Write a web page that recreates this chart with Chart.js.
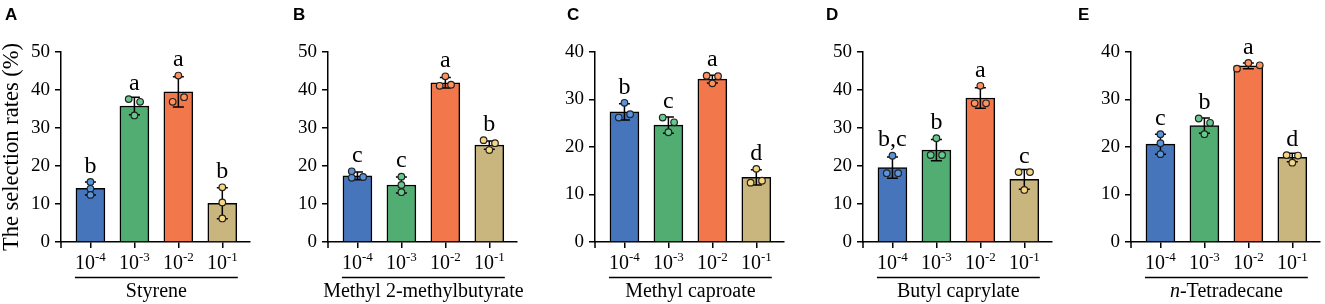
<!DOCTYPE html>
<html><head><meta charset="utf-8">
<script src="https://cdn.jsdelivr.net/npm/chart.js@4/dist/chart.umd.min.js"></script>
<style>
html,body{margin:0;padding:0;background:#fff;overflow:hidden;width:1325px;height:304px;position:relative;}
canvas{position:absolute;top:0;}
</style></head><body>
<canvas id="c0" width="262" height="304" style="left:0px"></canvas>
<canvas id="c1" width="262" height="304" style="left:267px"></canvas>
<canvas id="c2" width="262" height="304" style="left:534px"></canvas>
<canvas id="c3" width="262" height="304" style="left:802px"></canvas>
<canvas id="c4" width="262" height="304" style="left:1070px"></canvas>
<script>
// ---------- DATA ----------
const categories = ['10^-4', '10^-3', '10^-2', '10^-1'];
const tickBase = '10';
const tickExps = ['-4', '-3', '-2', '-1'];
const panelLetters = ['A', 'B', 'C', 'D', 'E'];
const compounds = ['Styrene', 'Methyl 2-methylbutyrate', 'Methyl caproate', 'Butyl caprylate', 'n-Tetradecane'];
const yTitle = 'The selection rates (%)';
const yMax = [50, 50, 40, 50, 40];
const yStep = 10;

const meansA = [14.1, 35.8, 39.5, 10.2];
const sdA = [1.7, 2.3, 4.0, 4.1];
const pointsA = [[15.8, 14.0, 12.4], [37.6, 36.9, 33.3], [43.8, 36.9, 38.1], [14.4, 10.4, 6.2]];
const lettersA = ['b', 'a', 'a', 'b'];

const meansB = [17.4, 15.0, 41.9, 25.5];
const sdB = [1.0, 2.1, 1.4, 1.1];
const pointsB = [[18.6, 16.9, 17.1], [17.2, 15.0, 13.1], [43.6, 41.1, 41.4], [26.8, 26.0, 24.2]];
const lettersB = ['c', 'c', 'a', 'b'];

const meansC = [27.4, 24.6, 34.3, 13.6];
const sdC = [1.7, 1.7, 0.8, 1.6];
const pointsC = [[29.3, 26.2, 26.9], [26.2, 25.2, 23.1], [35.0, 34.9, 33.4], [15.4, 12.5, 12.9]];
const lettersC = ['b', 'c', 'a', 'd'];

const meansD = [19.6, 24.2, 37.9, 16.5];
const sdD = [2.8, 2.8, 2.7, 2.6];
const pointsD = [[22.7, 18.1, 18.1], [27.3, 22.9, 22.9], [41.1, 36.5, 36.5], [18.4, 18.4, 13.7]];
const lettersD = ['b,c', 'b', 'a', 'c'];

const meansE = [20.6, 24.5, 37.1, 17.8];
const sdE = [2.1, 1.6, 0.6, 0.9];
const pointsE = [[22.7, 20.8, 18.5], [26.0, 25.1, 22.7], [36.5, 37.7, 37.2], [18.3, 18.2, 16.7]];
const lettersE = ['c', 'b', 'a', 'd'];

// ---------- STYLE / LAYOUT ----------
const barColors = ['#4675BC', '#52AD73', '#F2784C', '#C9B67E'];
const dotColors = ['#5A95DC', '#66C88C', '#FF915F', '#F7D67F'];
const jitters = [
  [[0,0,0],[-1,1,0],[0,-1,1],[0,0,0]],
  [[-1,-1,1],[0,0,0],[0,-1,1],[-1,1,0]],
  [[0,-1,1],[-1,1,0],[-1,1,0],[0,-1,1]],
  [[0,-1,1],[0,-1,1],[0,-1,1],[-1,1,0]],
  [[0,0,0],[-1,1,0],[-2,0,2],[-1,1,0]]
];
const letterX = [5, 26, 33, 24, 8];
const JIT = 5.7, R = 3.3;
const SERIF = '"Liberation Serif", "Times New Roman", serif';
const SANS = '"Liberation Sans", Arial, sans-serif';

const panels = [
  {means: meansA, sd: sdA, points: pointsA, letters: lettersA},
  {means: meansB, sd: sdB, points: pointsB, letters: lettersB},
  {means: meansC, sd: sdC, points: pointsC, letters: lettersC},
  {means: meansD, sd: sdD, points: pointsD, letters: lettersD},
  {means: meansE, sd: sdE, points: pointsE, letters: lettersE}
];

Chart.defaults.font.family = SERIF;
Chart.defaults.color = '#000';

const overlay = {
  id: 'overlay',
  afterDatasetsDraw(chart, args, opts) {
    const k = opts.k, P = panels[k];
    const ctx = chart.ctx, xs = chart.scales.x, ys = chart.scales.y, ca = chart.chartArea;
    ctx.save();
    ctx.strokeStyle = '#000'; ctx.lineWidth = 1.5;
    ctx.beginPath(); ctx.moveTo(ca.left, ca.bottom); ctx.lineTo(ca.left, ca.bottom + 6); ctx.stroke();
    const bw = 29;
    for (let i = 0; i < categories.length; i++) {
      const cx = xs.getPixelForValue(i);
      const m = P.means[i], s = P.sd[i];
      const yt = ys.getPixelForValue(m + s), yb = ys.getPixelForValue(m - s);
      ctx.strokeStyle = '#000'; ctx.lineWidth = 1.5;
      ctx.beginPath();
      ctx.moveTo(cx, yt); ctx.lineTo(cx, yb);
      ctx.moveTo(cx - 5.5, yt); ctx.lineTo(cx + 5.5, yt);
      ctx.moveTo(cx - 5.5, yb); ctx.lineTo(cx + 5.5, yb);
      ctx.stroke();
      let top = yt;
      P.points[i].forEach((v, j) => {
        const px = cx + jitters[k][i][j] * JIT, py = ys.getPixelForValue(v);
        ctx.beginPath(); ctx.arc(px, py, R, 0, Math.PI * 2);
        ctx.fillStyle = dotColors[i]; ctx.fill();
        ctx.lineWidth = 1.2; ctx.strokeStyle = '#222'; ctx.stroke();
        top = Math.min(top, py - R);
      });
      ctx.fillStyle = '#000';
      ctx.textAlign = 'center'; ctx.textBaseline = 'alphabetic';
      ctx.font = '24px ' + SERIF;
      ctx.fillText(P.letters[i], cx, top - 6);
      ctx.font = '20px ' + SERIF;
      const wb = ctx.measureText(tickBase).width;
      ctx.font = '13px ' + SERIF;
      const we = ctx.measureText(tickExps[i]).width;
      const x0 = cx - (wb + we) / 2;
      ctx.textAlign = 'left';
      ctx.font = '20px ' + SERIF;
      ctx.fillText(tickBase, x0, 269);
      ctx.font = '13px ' + SERIF;
      ctx.fillText(tickExps[i], x0 + wb, 261);
    }
    const ux0 = xs.getPixelForValue(0) - bw / 2 - 1, ux1 = xs.getPixelForValue(categories.length - 1) + bw / 2 + 1;
    ctx.strokeStyle = '#000'; ctx.lineWidth = 1.5;
    ctx.beginPath(); ctx.moveTo(ux0, 277.5); ctx.lineTo(ux1, 277.5); ctx.stroke();
    const ucx = (ux0 + ux1) / 2;
    const name = compounds[k];
    ctx.fillStyle = '#000'; ctx.textBaseline = 'alphabetic';
    if (name.startsWith('n-')) {
      ctx.font = 'italic 20px ' + SERIF; const w1 = ctx.measureText('n').width;
      ctx.font = '20px ' + SERIF; const rest = name.slice(1); const w2 = ctx.measureText(rest).width;
      const sx = ucx - (w1 + w2) / 2;
      ctx.textAlign = 'left';
      ctx.font = 'italic 20px ' + SERIF; ctx.fillText('n', sx, 297);
      ctx.font = '20px ' + SERIF; ctx.fillText(rest, sx + w1, 297);
    } else {
      ctx.font = '20px ' + SERIF; ctx.textAlign = 'center';
      ctx.fillText(name, ucx, 297);
    }
    ctx.font = 'bold 17px ' + SANS; ctx.textAlign = 'left';
    ctx.fillText(panelLetters[k], letterX[k], 20);
    ctx.restore();
  }
};

panels.forEach((P, k) => {
  new Chart(document.getElementById('c' + k), {
    type: 'bar',
    data: {
      datasets: [{
        data: P.means.map((v, i) => ({x: i, y: v})),
        backgroundColor: barColors,
        borderColor: '#000',
        borderWidth: 1.5,
        barThickness: 29
      }]
    },
    options: {
      responsive: false,
      animation: false,
      events: [],
      layout: {padding: {top: 52, left: 0, right: 12, bottom: 0}},
      plugins: {legend: {display: false}, tooltip: {enabled: false}, overlay: {k: k}},
      scales: {
        x: {
          type: 'linear',
          offset: false,
          min: -0.67, max: 3.63,
          afterBuildTicks: s => { s.ticks = categories.map((_, i) => ({value: i})); },
          afterFit: s => { s.height = 62; },
          ticks: {display: false},
          grid: {display: true, offset: false, drawOnChartArea: false, drawTicks: true, tickLength: 6, color: '#000', lineWidth: 1.5},
          border: {display: true, color: '#000', width: 1.5}
        },
        y: {
          min: 0, max: yMax[k],
          afterFit: s => { s.width = 61; },
          ticks: {stepSize: yStep, padding: 5, font: {size: 19, family: SERIF}, color: '#000'},
          grid: {display: true, drawOnChartArea: false, drawTicks: true, tickLength: 6, color: '#000', lineWidth: 1.5},
          border: {display: true, color: '#000', width: 1.5},
          title: {display: k === 0, text: yTitle, font: {size: 22.5, family: SERIF}, color: '#000', padding: {top: -1, bottom: 0}}
        }
      }
    },
    plugins: [overlay]
  });
});
</script>
</body></html>
